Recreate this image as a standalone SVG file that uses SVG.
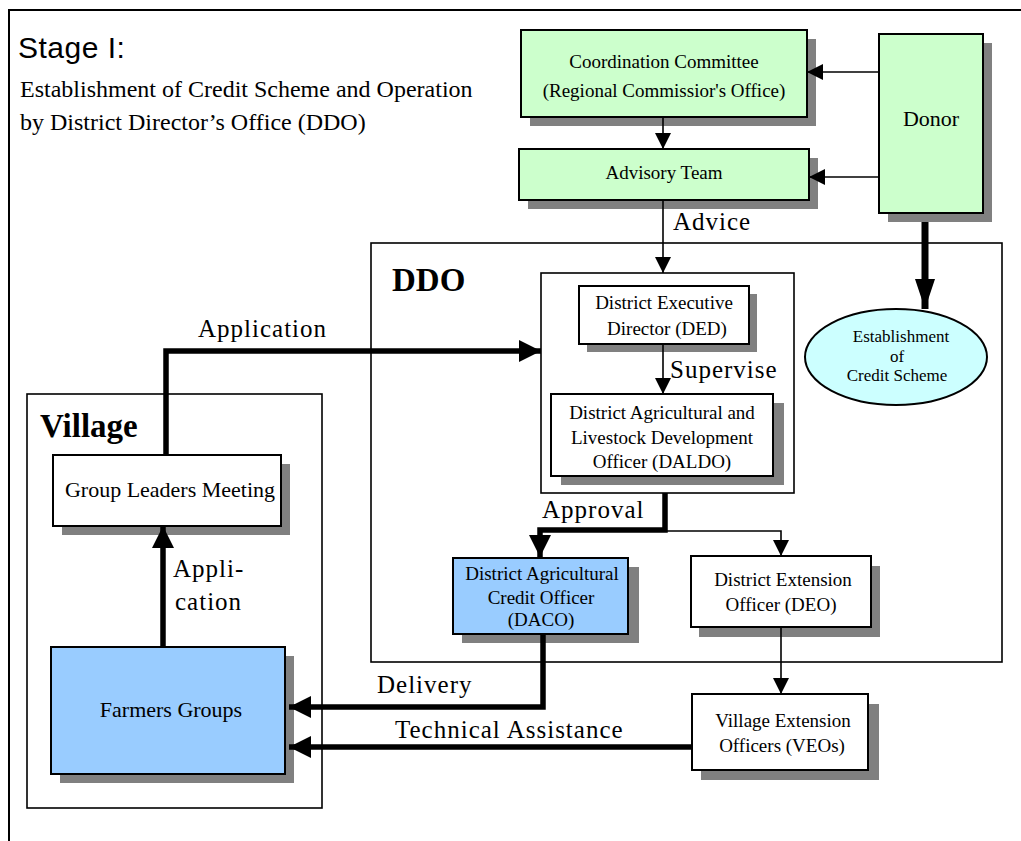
<svg xmlns="http://www.w3.org/2000/svg" width="1021" height="841" viewBox="0 0 1021 841">
  <style>
    .box { stroke: #000; stroke-width: 2; }
    .frame { fill: none; stroke: #000; stroke-width: 1.6; }
    .shadow { fill: #808080; }
    .green { fill: #CCFFCC; }
    .blue { fill: #99CCFF; }
    .white { fill: #FFFFFF; }
    .t { font-family: "Liberation Serif", "Times New Roman", serif; fill: #000; text-anchor: middle; }
    .s19 { font-size: 19px; }
    .s22 { font-size: 22px; }
    .lbl { font-family: "Liberation Serif", "Times New Roman", serif; font-size: 25px; letter-spacing: 1px; fill: #000; }
    .thin { fill: none; stroke: #000; stroke-width: 1.6; }
    .thick { fill: none; stroke: #000; stroke-width: 5.5; }
  </style>
  <defs>
    <marker id="ah" markerUnits="userSpaceOnUse" markerWidth="16" markerHeight="16" viewBox="0 0 14 14" refX="14" refY="7" orient="auto">
      <path d="M0,0 L14,7 L0,14 Z" fill="#000"/>
    </marker>
    <marker id="ahBig" markerUnits="userSpaceOnUse" markerWidth="22" markerHeight="22" viewBox="0 0 20 20" refX="20" refY="10" orient="auto">
      <path d="M0,0 L20,10 L0,20 Z" fill="#000"/>
    </marker>
    <marker id="ahLong" markerUnits="userSpaceOnUse" markerWidth="30" markerHeight="22" viewBox="0 0 30 20" refX="30" refY="10" orient="auto">
      <path d="M0,0 L30,10 L0,20 Z" fill="#000"/>
    </marker>
  </defs>

  <rect width="1021" height="841" fill="#FFFFFF"/>

  <!-- page frame: top and left rules -->
  <path d="M9,841 V10 H1021" fill="none" stroke="#000" stroke-width="2"/>

  <!-- title -->
  <g id="title">
    <text x="18" y="58" font-family="'Liberation Sans', Arial, sans-serif" font-size="30" letter-spacing="0.5">Stage I:</text>
    <text x="20" y="97" font-family="'Liberation Serif', 'Times New Roman', serif" font-size="24">Establishment of Credit Scheme and Operation</text>
    <text x="20" y="130" font-family="'Liberation Serif', 'Times New Roman', serif" font-size="24">by District Director’s Office (DDO)</text>
  </g>

  <!-- containers -->
  <g id="ddo">
    <rect class="frame" x="371" y="243" width="631" height="419"/>
    <text x="392" y="291" font-family="'Liberation Serif', 'Times New Roman', serif" font-size="33" font-weight="bold">DDO</text>
  </g>
  <g id="village">
    <rect class="frame" x="27" y="394" width="295" height="414"/>
    <text x="40" y="437" font-family="'Liberation Serif', 'Times New Roman', serif" font-size="33" font-weight="bold">Village</text>
  </g>
  <g id="district-management">
    <rect class="frame" x="541" y="273" width="253" height="220"/>
  </g>

  <!-- nodes -->
  <g id="coordination-committee">
    <rect class="shadow" x="530" y="39" width="286" height="87"/>
    <rect class="box green" x="521" y="30" width="286" height="87"/>
    <text class="t s19" x="664" y="68">Coordination Committee</text>
    <text class="t s19" x="664" y="97">(Regional Commissior's Office)</text>
  </g>

  <g id="advisory-team">
    <rect class="shadow" x="528" y="158" width="290" height="51"/>
    <rect class="box green" x="519" y="149" width="290" height="51"/>
    <text class="t s19" x="664" y="179">Advisory Team</text>
  </g>

  <g id="donor">
    <rect class="shadow" x="888" y="43" width="104" height="179"/>
    <rect class="box green" x="879" y="34" width="104" height="179"/>
    <text class="t" x="931" y="126" font-size="22">Donor</text>
  </g>

  <g id="credit-scheme">
    <ellipse cx="896" cy="357" rx="91" ry="48" fill="#CCFFFF" stroke="#000" stroke-width="2"/>
    <text class="t" font-size="17" x="901" y="342">Establishment</text>
    <text class="t" font-size="17" x="897" y="361.5">of</text>
    <text class="t" font-size="17" x="897" y="381">Credit Scheme</text>
  </g>

  <g id="ded">
    <rect class="shadow" x="587" y="294" width="170" height="58"/>
    <rect class="box white" x="579" y="286" width="170" height="58"/>
    <text class="t s19" x="664" y="309">District Executive</text>
    <text class="t s19" x="667" y="335">Director (DED)</text>
  </g>

  <g id="daldo">
    <rect class="shadow" x="561" y="403" width="223" height="82"/>
    <rect class="box white" x="551" y="394" width="222" height="82"/>
    <text class="t s19" x="662" y="419">District Agricultural and</text>
    <text class="t s19" x="662" y="444">Livestock Development</text>
    <text class="t s19" x="662" y="468">Officer (DALDO)</text>
  </g>

  <g id="daco">
    <rect class="shadow" x="462" y="567" width="177" height="76"/>
    <rect class="box blue" x="453" y="558" width="175" height="76"/>
    <text class="t s19" x="542" y="580">District Agricultural</text>
    <text class="t s19" x="541" y="604">Credit Officer</text>
    <text class="t s19" x="541" y="626">(DACO)</text>
  </g>

  <g id="deo">
    <rect class="shadow" x="699" y="566" width="181" height="71"/>
    <rect class="box white" x="691" y="556" width="180" height="71"/>
    <text class="t s19" x="783" y="586">District Extension</text>
    <text class="t s19" x="781" y="611">Officer (DEO)</text>
  </g>

  <g id="veo">
    <rect class="shadow" x="701" y="704" width="178" height="76"/>
    <rect class="box white" x="692" y="694" width="176" height="76"/>
    <text class="t s19" x="783" y="727">Village Extension</text>
    <text class="t s19" x="782" y="752">Officers (VEOs)</text>
  </g>

  <g id="group-leaders-meeting">
    <rect class="shadow" x="62" y="464" width="228" height="71"/>
    <rect class="box white" x="53" y="455" width="228" height="71"/>
    <text class="t s22" x="170" y="497">Group Leaders Meeting</text>
  </g>

  <g id="farmers-groups">
    <rect class="shadow" x="60" y="656" width="234" height="127"/>
    <rect class="box blue" x="51" y="647" width="234" height="127"/>
    <text class="t s22" x="171" y="717">Farmers Groups</text>
  </g>

  <!-- connectors -->
  <g id="connectors">
    <line class="thin" x1="879" y1="72" x2="807" y2="72" marker-end="url(#ah)"/>
    <line class="thin" x1="879" y1="177" x2="809" y2="177" marker-end="url(#ah)"/>
    <line class="thin" x1="663" y1="117" x2="663" y2="149" marker-end="url(#ah)"/>
    <line class="thin" x1="663" y1="200" x2="663" y2="273" marker-end="url(#ah)"/>
    <line class="thin" x1="663" y1="344" x2="663" y2="394" marker-end="url(#ah)"/>
    <line x1="925" y1="222" x2="925" y2="309" fill="none" stroke="#000" stroke-width="7" marker-end="url(#ahLong)"/>
    <polyline class="thick" points="166,455 166,351 541,351" marker-end="url(#ahBig)"/>
    <line class="thick" x1="163" y1="647" x2="163" y2="526" marker-end="url(#ahBig)"/>
    <polyline class="thick" points="665,493 665,530 540,530 540,557" marker-end="url(#ahBig)"/>
    <polyline class="thin" points="665,531 781,531 781,556" marker-end="url(#ah)"/>
    <line class="thin" x1="781" y1="627" x2="781" y2="694" marker-end="url(#ah)"/>
    <polyline class="thick" points="543,634 543,707 289,707" marker-end="url(#ahBig)"/>
    <line class="thick" x1="693" y1="747" x2="289" y2="747" marker-end="url(#ahBig)"/>
  </g>

  <!-- connector labels -->
  <g id="labels">
    <text class="lbl" x="673" y="230">Advice</text>
    <text class="lbl" x="670" y="378">Supervise</text>
    <text class="lbl" x="198" y="337">Application</text>
    <text class="lbl" x="542" y="518">Approval</text>
    <text class="lbl" x="173" y="577">Appli-</text>
    <text class="lbl" x="175" y="610">cation</text>
    <text class="lbl" x="377" y="693">Delivery</text>
    <text class="lbl" x="395" y="738">Technical Assistance</text>
  </g>
</svg>
